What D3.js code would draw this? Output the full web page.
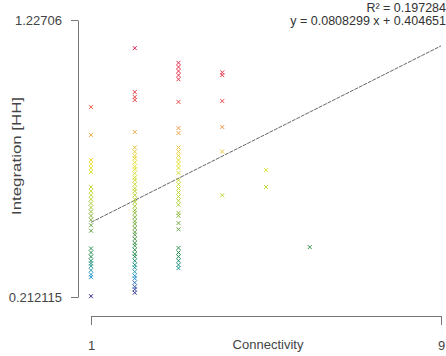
<!DOCTYPE html>
<html>
<head>
<meta charset="utf-8">
<script src="https://cdn.jsdelivr.net/npm/d3@7"></script>
<style>
  html, body { margin: 0; padding: 0; background: #fff; }
  svg { display: block; font-family: "Liberation Sans", Arial, sans-serif; }
</style>
</head>
<body>
<svg id="chart" width="446" height="356"></svg>
<script>
// ---- data ----
const connectivity = [1, 2, 3, 4, 5, 6];
const integC1 = [0.908, 0.806, 0.714, 0.70, 0.685, 0.67, 0.615, 0.60, 0.585, 0.57, 0.555, 0.54, 0.525,
  0.51, 0.495, 0.475, 0.455, 0.39, 0.375, 0.36, 0.345, 0.335, 0.325, 0.31, 0.295, 0.285, 0.215];
const integC2 = [1.124, 0.963, 0.945, 0.934, 0.817, 0.76, 0.745, 0.73, 0.72, 0.705, 0.69, 0.68, 0.665,
  0.65, 0.64, 0.625, 0.61, 0.60, 0.585, 0.57, 0.56, 0.545, 0.53, 0.52, 0.505, 0.49, 0.48, 0.465, 0.45,
  0.44, 0.425, 0.41, 0.40, 0.385, 0.37, 0.36, 0.345, 0.33, 0.32, 0.305, 0.29, 0.28, 0.265, 0.25, 0.24, 0.228];
const integC3 = [1.07, 1.055, 1.04, 1.025, 1.01, 0.927, 0.831, 0.813, 0.76, 0.745, 0.73, 0.714, 0.70,
  0.685, 0.667, 0.64, 0.625, 0.61, 0.595, 0.58, 0.565, 0.55, 0.52, 0.51, 0.483, 0.46, 0.392, 0.375,
  0.36, 0.345, 0.33, 0.318];
const integC4 = [1.035, 1.025, 0.93, 0.835, 0.745, 0.585];
const integC5 = [0.677, 0.615];
const integC6 = [0.395];
const integByConn = [integC1, integC2, integC3, integC4, integC5, integC6];

const xTickValues = [1, 9];
const xTickLabels = ["1", "9"];
const yTickValues = [0.212115, 1.22706];
const yTickLabels = ["0.212115", "1.22706"];
const slope = 0.0808299, intercept = 0.404651;
const rSquaredText = "R\u00B2 = 0.197284";
const equationText = "y = 0.0808299 x + 0.404651";
const xTitle = "Connectivity";
const yTitle = "Integration [HH]";

// ---- drawing ----
const svg = d3.select("#chart");
const x = d3.scaleLinear().domain([1, 9]).range([91, 441]);
const y = d3.scaleLinear().domain([0.212115, 1.22706]).range([297, 20]);

const color = d3.scaleLinear()
  .domain([0.22, 0.29, 0.36, 0.45, 0.56, 0.70, 0.82, 0.93, 1.13])
  .range(["#3b2a8c", "#2a9fd0", "#1f8c52", "#5f9e4a", "#b2d23c", "#e6e236", "#f0a44a", "#ea4a48", "#e0204e"])
  .clamp(true);

const points = [];
connectivity.forEach((c, i) => integByConn[i].forEach(v => points.push({c, v})));

// regression line
svg.append("line")
  .attr("x1", x(1)).attr("y1", y(slope * 1 + intercept))
  .attr("x2", x(9)).attr("y2", y(slope * 9 + intercept))
  .attr("stroke", "#666").attr("stroke-width", 1)
  .attr("stroke-dasharray", "4,1");

// points: pch 4 crosses
const s = 2;
const g = svg.append("g");
g.selectAll("path.pt").data(points).join("path")
  .attr("class", "pt")
  .attr("d", d => {
    const px = x(d.c), py = y(d.v);
    return `M${px - s},${py - s}L${px + s},${py + s}M${px - s},${py + s}L${px + s},${py - s}`;
  })
  .attr("stroke", d => color(d.v))
  .attr("stroke-width", 1)
  .attr("fill", "none");

// y axis
const yAxis = svg.append("g").attr("transform", "translate(78,0)")
  .call(d3.axisLeft(y).tickValues(yTickValues).tickSize(7).tickSizeOuter(0).tickPadding(9)
    .tickFormat((d, i) => yTickLabels[i]));
// x axis
const xAxis = svg.append("g").attr("transform", "translate(0,316)")
  .call(d3.axisBottom(x).tickValues(xTickValues).tickSize(9).tickSizeOuter(0).tickPadding(16)
    .tickFormat((d, i) => xTickLabels[i]));

[yAxis, xAxis].forEach(a => {
  a.select(".domain").attr("stroke", "#777");
  a.selectAll(".tick line").attr("stroke", "#777");
  a.selectAll(".tick text").attr("fill", "#444").attr("font-size", 13)
    .attr("font-family", "'Liberation Sans', Arial, sans-serif");
});

// axis titles
svg.append("text").attr("x", 268).attr("y", 349).attr("text-anchor", "middle")
  .attr("font-size", 13).attr("fill", "#444").text(xTitle);
svg.append("text").attr("transform", "translate(21,156) rotate(-90)")
  .attr("text-anchor", "middle").attr("font-size", 13).attr("fill", "#444")
  .attr("textLength", 118).attr("lengthAdjust", "spacingAndGlyphs").text(yTitle);

// annotation
svg.append("text").attr("x", 446).attr("y", 12).attr("text-anchor", "end")
  .attr("font-size", 12.5).attr("fill", "#333").text(rSquaredText);
svg.append("text").attr("x", 446).attr("y", 25).attr("text-anchor", "end")
  .attr("font-size", 12.5).attr("fill", "#333").text(equationText);
</script>
</body>
</html>
